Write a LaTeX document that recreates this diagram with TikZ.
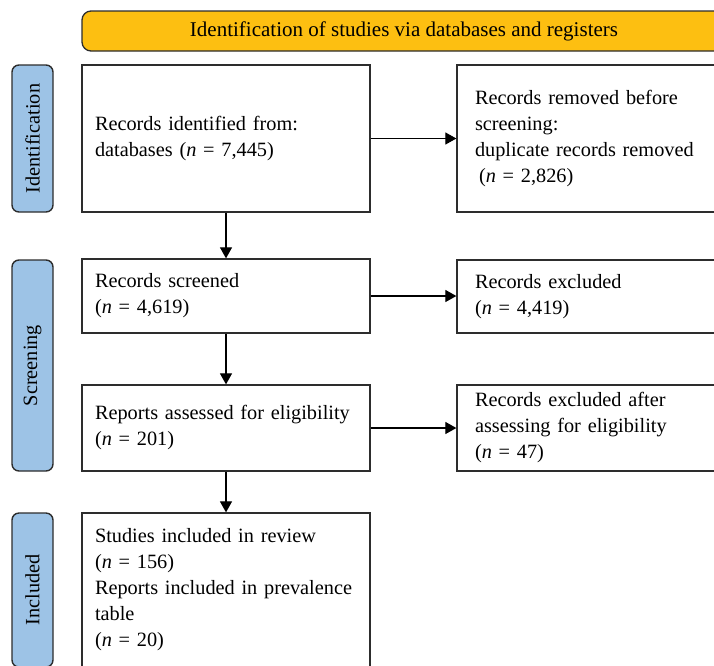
\documentclass[tikz,border=0pt]{standalone}
\usepackage{fontspec}
\setmainfont{Liberation Serif}
\usetikzlibrary{arrows.meta}
\definecolor{hdr}{RGB}{253,191,17}
\definecolor{labfill}{RGB}{157,195,230}
\definecolor{edge}{RGB}{45,45,45}
\begin{document}
\begin{tikzpicture}[x=1pt,y=-1pt,
  txt/.style={font=\fontsize{20.3}{26}\selectfont},
  box/.style={draw=edge, line width=1.3pt, fill=white, txt, align=left,
    inner ysep=0pt, inner xsep=13pt, text width=262pt, minimum width=288pt},
  rbox/.style={box, inner xsep=18pt, text width=240pt, minimum width=276pt},
  stage/.style={draw=edge, line width=1.4pt, fill=labfill, rounded corners=7pt,
    rotate=90, txt, minimum height=41pt, inner sep=0pt},
  header/.style={draw=edge, line width=1.3pt, fill=hdr, rounded corners=9pt,
    font=\fontsize{21}{24}\selectfont, minimum width=644pt, minimum height=40pt, inner sep=0pt},
  arr/.style={draw=black, line width=1.2pt, -{Triangle[length=11pt,width=12pt]}}
]
\useasboundingbox (0,0) rectangle (714,665);
\clip (0,0) rectangle (714,665);

\node[header] (hd) at (404,31) {Identification of studies via databases and registers};

\node[stage, minimum width=147pt] (s1) at (32.5,138.5) {Identification};
\node[stage, minimum width=211pt] (s2) at (32.5,365.5) {Screening};
\node[stage, minimum width=154pt] (s3) at (32.5,590) {Included};

\node[box, minimum height=147pt] (b1) at (226,138.5)
  {Records identified from:\\ databases (\textit{n} = 7,445)};
\node[rbox, minimum height=147pt] (r1) at (595,138.5)
  {Records removed before\\ screening:\\ duplicate records removed\\ \hspace*{4pt}(\textit{n} = 2,826)};

\node[box, minimum height=74pt] (b2) at (226,296)
  {Records screened\\ (\textit{n} = 4,619)};
\node[rbox, minimum height=73pt] (r2) at (595,296.5)
  {Records excluded\\ (\textit{n} = 4,419)};

\node[box, minimum height=86pt] (b3) at (226,428)
  {Reports assessed for eligibility\\ (\textit{n} = 201)};
\node[rbox, minimum height=86pt] (r3) at (595,428)
  {Records excluded after\\ assessing for eligibility\\ (\textit{n} = 47)};

\node[box, minimum height=154pt] (b4) at (226,590)
  {Studies included in review\\ (\textit{n} = 156)\\ Reports included in prevalence\\ table\\ (\textit{n} = 20)};

\draw[arr] (b1.east) -- (r1.west);
\draw[arr] (b2.east) -- (b2.east -| r2.west);
\draw[arr] (b3.east) -- (r3.west);
\draw[arr] (b1.south) -- (b2.north);
\draw[arr] (b2.south) -- (b3.north);
\draw[arr] (b3.south) -- (b4.north);
\end{tikzpicture}
\end{document}
